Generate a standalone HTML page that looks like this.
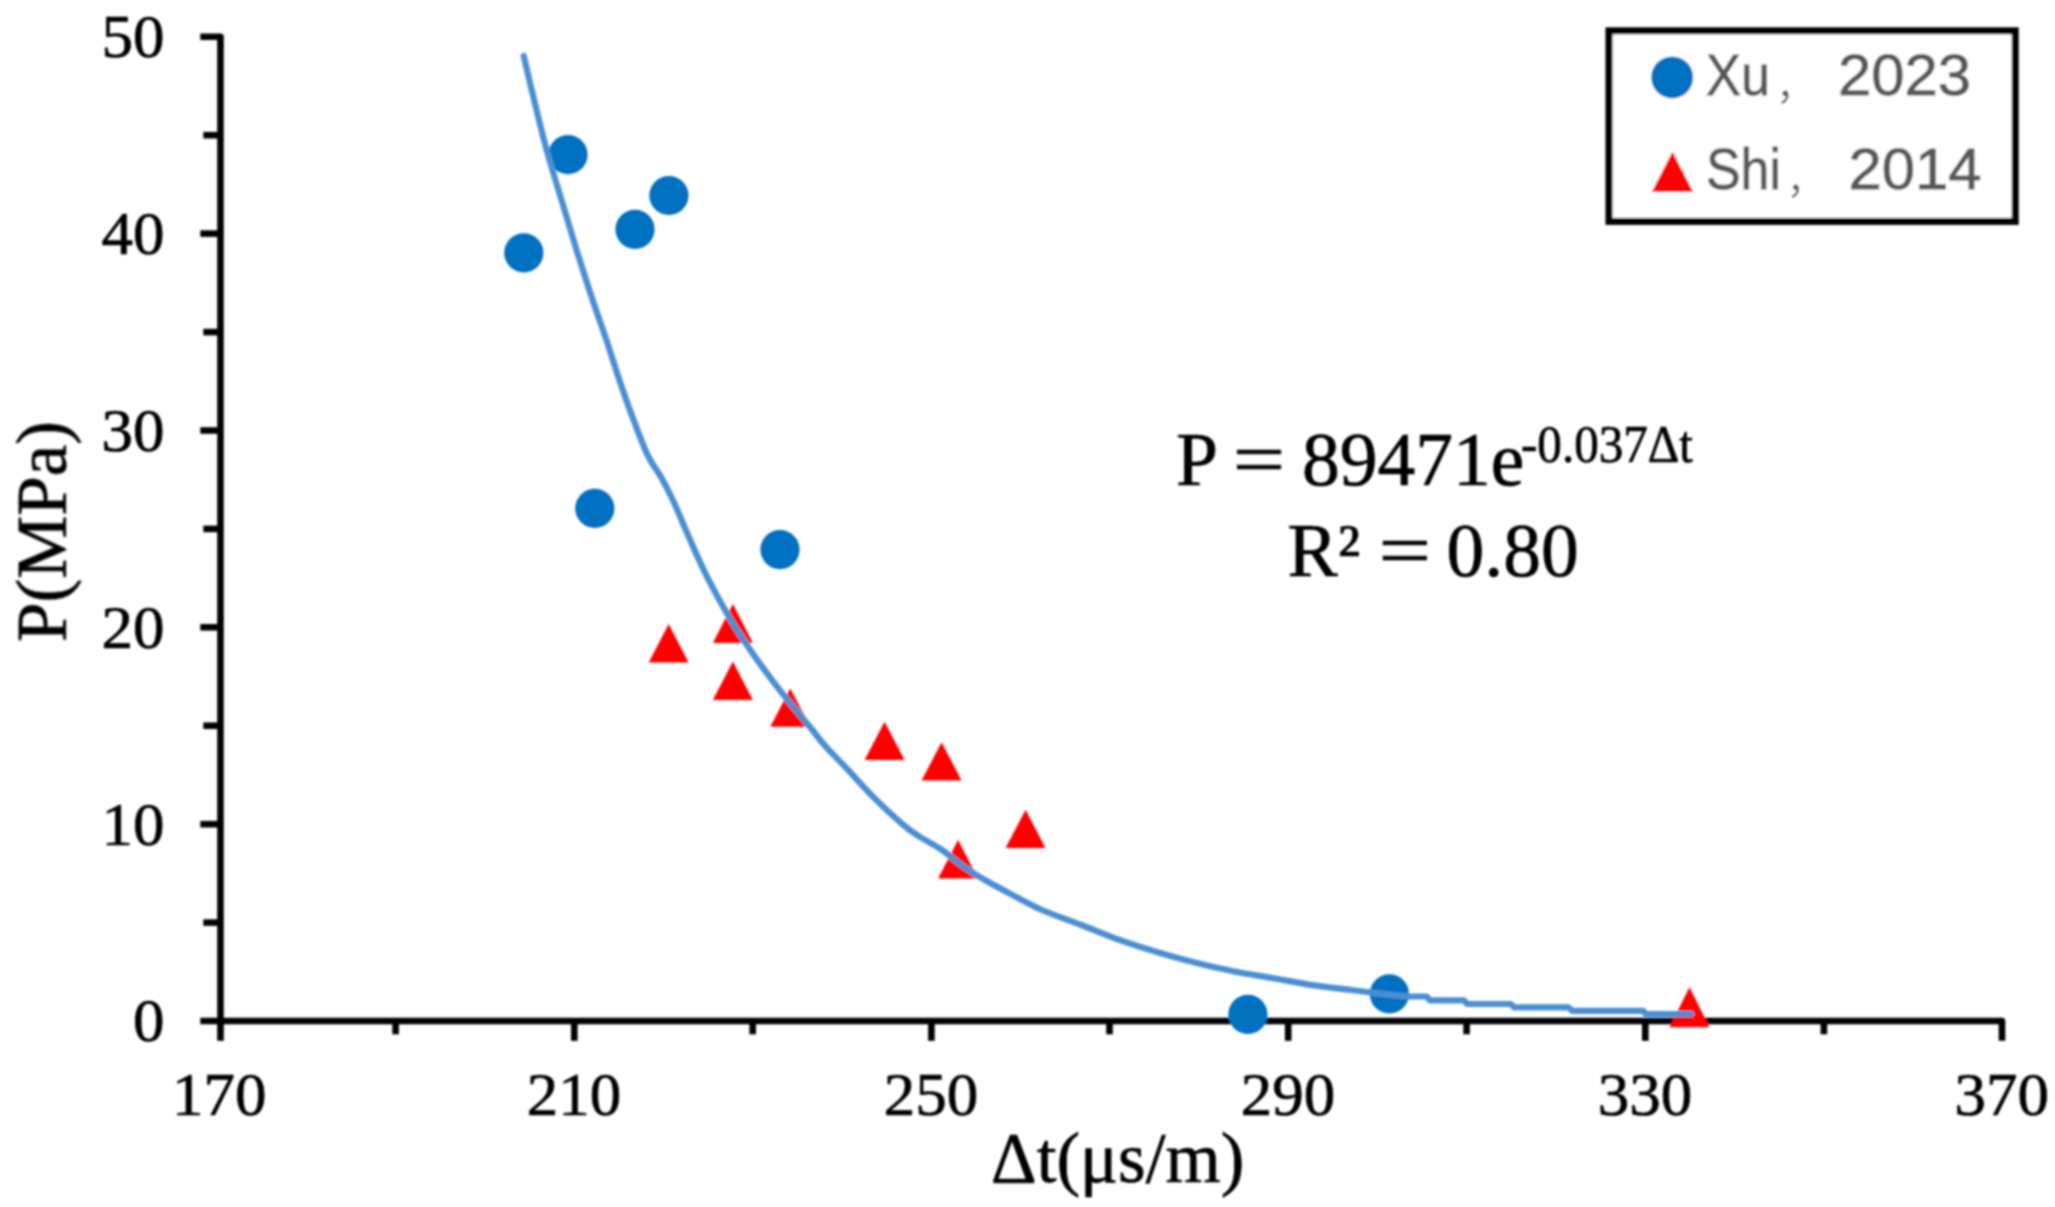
<!DOCTYPE html>
<html lang="en">
<head>
<meta charset="utf-8">
<title>P vs Δt</title>
<style>
html,body{margin:0;padding:0;background:#fff;}
body{width:2055px;height:1207px;overflow:hidden;}
svg{display:block;}
.serif{font-family:"Liberation Serif","DejaVu Serif",serif;fill:#000;stroke:#000;stroke-width:0.7;}
.sans{font-family:"Liberation Sans","Noto Sans CJK SC",sans-serif;fill:#595959;stroke:#595959;stroke-width:0.9;}
.tick{font-size:60.5px;}
.ax{stroke:#000;stroke-width:6.6;fill:none;stroke-linecap:butt;stroke-linejoin:round;}
</style>
</head>
<body>
<svg width="2055" height="1207" viewBox="0 0 2055 1207">
<defs><filter id="soft" x="-2%" y="-2%" width="104%" height="104%"><feGaussianBlur stdDeviation="0.9"/></filter></defs>
<rect width="2055" height="1207" fill="#fff"/>
<g filter="url(#soft)">
<g class="ax">
<path d="M200.3 36.8 H220.5 V1040.8"/>
<path d="M200.3 1021.0 H2002 V1040.8"/>
<path d="M203.3 922.6 H220.5"/>
<path d="M200.3 824.2 H220.5"/>
<path d="M203.3 725.7 H220.5"/>
<path d="M200.3 627.3 H220.5"/>
<path d="M203.3 528.9 H220.5"/>
<path d="M200.3 430.5 H220.5"/>
<path d="M203.3 332.1 H220.5"/>
<path d="M200.3 233.6 H220.5"/>
<path d="M203.3 135.2 H220.5"/>
<path d="M395.6 1021.0 V1034.3"/>
<path d="M574.3 1021.0 V1040.8"/>
<path d="M752.7 1021.0 V1034.3"/>
<path d="M931.4 1021.0 V1040.8"/>
<path d="M1109.5 1021.0 V1034.3"/>
<path d="M1288.2 1021.0 V1040.8"/>
<path d="M1466.6 1021.0 V1034.3"/>
<path d="M1645.3 1021.0 V1040.8"/>
<path d="M1823.9 1021.0 V1034.3"/>
</g>
<g class="serif tick" text-anchor="end">
<text x="164.5" y="1041.3" textLength="31.5" lengthAdjust="spacingAndGlyphs">0</text>
<text x="164.5" y="844.5" textLength="63.0" lengthAdjust="spacingAndGlyphs">10</text>
<text x="164.5" y="647.6" textLength="63.0" lengthAdjust="spacingAndGlyphs">20</text>
<text x="164.5" y="450.8" textLength="63.0" lengthAdjust="spacingAndGlyphs">30</text>
<text x="164.5" y="253.9" textLength="63.0" lengthAdjust="spacingAndGlyphs">40</text>
<text x="164.5" y="57.1" textLength="63.0" lengthAdjust="spacingAndGlyphs">50</text>
</g>
<g class="serif tick" text-anchor="middle">
<text x="219.3" y="1114.7" textLength="94.5" lengthAdjust="spacingAndGlyphs">170</text>
<text x="574.0" y="1114.7" textLength="94.5" lengthAdjust="spacingAndGlyphs">210</text>
<text x="931.1" y="1114.7" textLength="94.5" lengthAdjust="spacingAndGlyphs">250</text>
<text x="1287.9" y="1114.7" textLength="94.5" lengthAdjust="spacingAndGlyphs">290</text>
<text x="1645.0" y="1114.7" textLength="94.5" lengthAdjust="spacingAndGlyphs">330</text>
<text x="2001.7" y="1114.7" textLength="94.5" lengthAdjust="spacingAndGlyphs">370</text>
</g>
<text class="serif" font-size="71" text-anchor="middle" x="1117.7" y="1182">Δt(μs/m)</text>
<text class="serif" font-size="71" text-anchor="middle" transform="translate(65.8 531.5) rotate(-90)">P(MPa)</text>
<g fill="#0070c0">
<circle cx="523.8" cy="252.8" r="19.6"/>
<circle cx="568.0" cy="154.7" r="19.6"/>
<circle cx="635.0" cy="229.3" r="19.6"/>
<circle cx="668.9" cy="195.5" r="19.6"/>
<circle cx="594.8" cy="508.3" r="19.6"/>
<circle cx="780.0" cy="549.6" r="19.6"/>
<circle cx="1247.9" cy="1014.3" r="19.6"/>
<circle cx="1389.4" cy="993.9" r="19.6"/>
</g>
<g fill="#ff0000">
<path d="M668.7 624.0 L688.7 662.5 H648.7 Z"/>
<path d="M732.9 604.1 L752.9 643.1 H712.9 Z"/>
<path d="M732.9 661.6 L752.9 700.1 H712.9 Z"/>
<path d="M790.3 688.4 L810.3 726.8 H770.3 Z"/>
<path d="M884.6 721.7 L904.6 760.1 H864.6 Z"/>
<path d="M941.6 742.2 L961.6 780.5 H921.6 Z"/>
<path d="M958.1 839.9 L978.1 878.4 H938.1 Z"/>
<path d="M1025.6 809.7 L1045.6 848.1 H1005.6 Z"/>
<path d="M1689.5 987.3 L1709.5 1027.2 H1669.5 Z"/>
</g>
<path d="M523.7 56.0 C525.5 63.7 530.7 86.0 534.6 102.0 C538.5 118.0 542.6 135.4 547.2 152.0 C551.8 168.6 557.0 185.0 562.0 201.6 C567.0 218.2 572.0 235.1 577.0 251.3 C582.0 267.5 587.5 284.4 592.3 299.0 C597.1 313.6 601.6 325.6 606.0 338.7 C610.4 351.8 614.3 364.9 618.7 377.9 C623.1 390.9 627.5 403.8 632.4 416.8 C637.3 429.8 643.1 445.7 647.9 455.7 C652.7 465.7 657.1 470.1 661.0 477.0 C664.9 483.9 668.4 490.8 671.4 497.0 C674.4 503.2 676.3 507.6 679.1 514.1 C681.9 520.6 683.6 525.4 688.4 536.0 C693.1 546.6 700.8 564.4 707.6 577.9 C714.4 591.4 721.2 603.8 729.0 616.8 C736.8 629.8 745.2 642.6 754.3 655.7 C763.4 668.8 774.6 683.5 783.7 695.2 C792.9 706.9 802.4 717.6 809.2 726.0 C816.1 734.4 818.6 738.5 824.8 745.5 C831.0 752.5 838.1 759.3 846.2 767.9 C854.3 776.5 864.0 787.7 873.4 797.1 C882.8 806.5 894.8 817.6 902.6 824.3 C910.4 830.9 913.6 832.8 920.1 837.0 C926.6 841.2 934.5 844.7 941.6 849.6 C948.8 854.5 955.5 861.0 963.0 866.2 C970.5 871.4 978.5 876.3 986.3 880.8 C994.1 885.3 1000.4 888.5 1009.7 893.4 C1019.0 898.3 1030.3 904.8 1042.0 910.0 C1053.7 915.2 1067.3 919.6 1080.0 924.5 C1092.7 929.4 1105.1 934.8 1117.9 939.4 C1130.7 944.0 1143.8 948.1 1156.8 952.0 C1169.8 955.9 1182.7 959.5 1195.7 962.7 C1208.7 966.0 1221.6 968.9 1234.6 971.5 C1247.6 974.1 1260.6 976.0 1273.6 978.3 C1286.6 980.6 1299.5 983.1 1312.5 985.1 C1325.5 987.1 1338.4 988.4 1351.4 990.0 C1364.4 991.6 1381.0 993.7 1390.4 994.8 C1399.8 995.9 1405.1 996.2 1408.0 996.5 L1426.7 996.5 L1429.8 1000.4 L1464.1 1000.4 L1467.2 1004.0 L1510.8 1004.0 L1514.0 1007.4 L1568.5 1007.4 L1572.4 1010.8 L1643.2 1010.8 L1645.6 1014.2 L1691.0 1014.2" fill="none" stroke="#4a8fd2" stroke-width="6.2" stroke-linecap="round" stroke-linejoin="round"/>
<text class="serif" font-size="75.5" y="484.6"><tspan x="1176">P</tspan> <tspan x="1232.8" textLength="52.5" lengthAdjust="spacingAndGlyphs">=</tspan> <tspan x="1302">89471e</tspan><tspan x="1521" y="461.6" font-size="52" textLength="172" lengthAdjust="spacingAndGlyphs">-0.037Δt</tspan></text>
<text class="serif" font-size="75.5" y="576.1"><tspan x="1287.5">R²</tspan> <tspan x="1378.5" textLength="52.5" lengthAdjust="spacingAndGlyphs">=</tspan> <tspan x="1446.5">0.80</tspan></text>
<rect x="1609" y="30.8" width="406.2" height="190.6" fill="#fff" stroke="#000" stroke-width="7"/>
<circle cx="1672.2" cy="77.4" r="21" fill="#0070c0"/>
<path d="M1672.5 151.4 L1693.3 191.9 H1651.7 Z" fill="#ff0000"/>
<text class="sans" font-size="57.5" y="94.8"><tspan x="1706" textLength="64" lengthAdjust="spacingAndGlyphs">Xu</tspan><tspan x="1776" y="99" font-size="38" stroke-width="0">，</tspan><tspan x="1838" y="94.8" textLength="133" lengthAdjust="spacingAndGlyphs">2023</tspan></text>
<text class="sans" font-size="57.5" y="189.1"><tspan x="1706" textLength="75" lengthAdjust="spacingAndGlyphs">Shi</tspan><tspan x="1786.5" y="193.3" font-size="38" stroke-width="0">，</tspan><tspan x="1848.5" y="189.1" textLength="133" lengthAdjust="spacingAndGlyphs">2014</tspan></text>
</g>
</svg>
</body>
</html>
